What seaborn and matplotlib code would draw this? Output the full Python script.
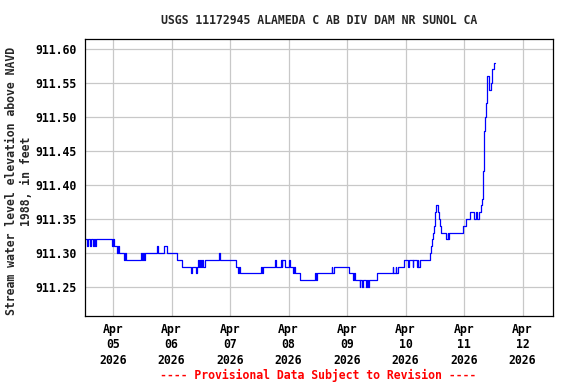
import matplotlib
matplotlib.use("Agg")
import matplotlib.pyplot as plt
import seaborn as sns
import pandas as pd

# ---- data (hours since 2026-04-04 00:00, step changes in water level) ----
hours = [12.5, 13.25, 13.75, 14.5, 15.0, 15.75, 16.25, 16.5, 17.0, 23.5, 24.0, 24.25,
         25.5, 26.0, 26.5, 28.5, 29.0, 29.25, 35.5, 36.0, 36.25, 36.75, 37.0, 42.0,
         42.5, 45.0, 46.0, 50.25, 52.25, 56.0, 56.25, 58.0, 58.5, 58.75, 59.25, 59.75,
         60.0, 60.5, 60.75, 61.75, 67.5, 67.75, 74.5, 75.25, 75.5, 76.0, 84.5, 85.0,
         85.5, 90.25, 90.75, 92.75, 93.25, 93.5, 94.5, 96.0, 96.5, 97.75, 98.25, 98.5,
         100.5, 106.75, 107.25, 107.5, 113.75, 114.0, 114.5, 121.0, 122.25, 122.75,
         123.25, 125.25, 125.5, 126.0, 126.5, 127.75, 128.0, 128.5, 129.0, 132.25,
         138.75, 139.0, 140.0, 140.25, 140.75, 143.25, 145.0, 145.25, 147.0, 147.25,
         148.5, 149.0, 149.25, 149.75, 154.0, 154.5, 155.0, 155.25, 155.75, 156.0,
         156.25, 156.5, 157.25, 157.75, 158.0, 158.5, 160.75, 161.25, 161.5, 162.0,
         167.5, 169.0, 170.25, 172.25, 173.0, 173.25, 174.0, 175.0, 175.5, 175.75,
         176.0, 176.25, 176.5, 177.0, 177.5, 178.25, 179.0, 179.5, 180.0, 180.25, 180.5]
elevation = [911.32, 911.31, 911.32, 911.31, 911.32, 911.31, 911.32, 911.31, 911.32, 911.31, 911.32, 911.31,
             911.30, 911.31, 911.30, 911.29, 911.30, 911.29, 911.30, 911.29, 911.30, 911.29, 911.30, 911.31,
             911.30, 911.31, 911.30, 911.29, 911.28, 911.27, 911.28, 911.27, 911.28, 911.29, 911.28, 911.29,
             911.28, 911.29, 911.28, 911.29, 911.30, 911.29, 911.28, 911.27, 911.28, 911.27, 911.28, 911.27,
             911.28, 911.29, 911.28, 911.29, 911.28, 911.29, 911.28, 911.29, 911.28, 911.27, 911.28, 911.27,
             911.26, 911.27, 911.26, 911.27, 911.28, 911.27, 911.28, 911.27, 911.26, 911.27,
             911.26, 911.25, 911.26, 911.25, 911.26, 911.25, 911.26, 911.25, 911.26, 911.27,
             911.28, 911.27, 911.28, 911.27, 911.28, 911.29, 911.28, 911.29, 911.28, 911.29,
             911.28, 911.29, 911.28, 911.29, 911.30, 911.31, 911.32, 911.33, 911.34, 911.35,
             911.36, 911.37, 911.36, 911.35, 911.34, 911.33, 911.32, 911.33, 911.32, 911.33,
             911.34, 911.35, 911.36, 911.35, 911.36, 911.35, 911.36, 911.37, 911.38, 911.42,
             911.45, 911.48, 911.50, 911.52, 911.56, 911.54, 911.55, 911.57, 911.57, 911.58, 911.58]
tick_dates = ["2026-04-05", "2026-04-06", "2026-04-07", "2026-04-08",
              "2026-04-09", "2026-04-10", "2026-04-11", "2026-04-12"]
tick_labels = ["Apr\n05\n2026", "Apr\n06\n2026", "Apr\n07\n2026", "Apr\n08\n2026",
               "Apr\n09\n2026", "Apr\n10\n2026", "Apr\n11\n2026", "Apr\n12\n2026"]
y_ticks = [911.25, 911.30, 911.35, 911.40, 911.45, 911.50, 911.55, 911.60]
title = "USGS 11172945 ALAMEDA C AB DIV DAM NR SUNOL CA"
ylabel = "Stream water level elevation above NAVD\n1988, in feet"
footer = "---- Provisional Data Subject to Revision ----"

sns.set_theme(style="white")
plt.rcParams["font.family"] = ["DejaVu Sans Mono"]
plt.rcParams["font.weight"] = "bold"
FS = 8.3

base = pd.Timestamp("2026-04-04")
df = pd.DataFrame({"time": base + pd.to_timedelta(hours, unit="h"), "elev": elevation})

fig = plt.figure(figsize=(5.76, 3.84), dpi=100)
ax = fig.add_axes([85 / 576, 1 - 316 / 384, 468 / 576, 277 / 384])

sns.lineplot(data=df, x="time", y="elev", drawstyle="steps-post", estimator=None,
             color="#0000ff", linewidth=0.9, ax=ax)

start = base + pd.Timedelta(hours=12.5)
ax.set_xlim(start, start + pd.Timedelta(days=8))
ax.set_ylim(911.2074, 911.6147)
ax.set_xticks(pd.to_datetime(tick_dates))
ax.set_xticklabels(tick_labels, fontsize=FS, fontweight="bold", linespacing=1.25)
ax.set_yticks(y_ticks)
ax.set_yticklabels([f"{v:.2f}" for v in y_ticks], fontsize=FS, fontweight="bold")
ax.tick_params(axis="both", length=0, colors="black")
ax.tick_params(axis="y", pad=6)
ax.tick_params(axis="x", pad=5)
ax.grid(True, color="#c8c8c8", linewidth=0.9)
ax.set_axisbelow(True)
for s in ax.spines.values():
    s.set_color("black")
    s.set_linewidth(0.9)
ax.set_xlabel("")
ax.set_ylabel("")

fig.text(319 / 576, 1 - 20 / 384, title, ha="center", va="center", fontsize=FS, fontweight="bold")
fig.text(19 / 576, 1 - 181 / 384, ylabel, ha="center", va="center", rotation=90,
         fontsize=FS, fontweight="bold", linespacing=1.25, multialignment="center")
fig.text(318.5 / 576, 1 - 375 / 384, footer, ha="center", va="center", fontsize=FS,
         fontweight="bold", color="#ff0000")

fig.savefig("out.png", dpi=100, facecolor="white")
